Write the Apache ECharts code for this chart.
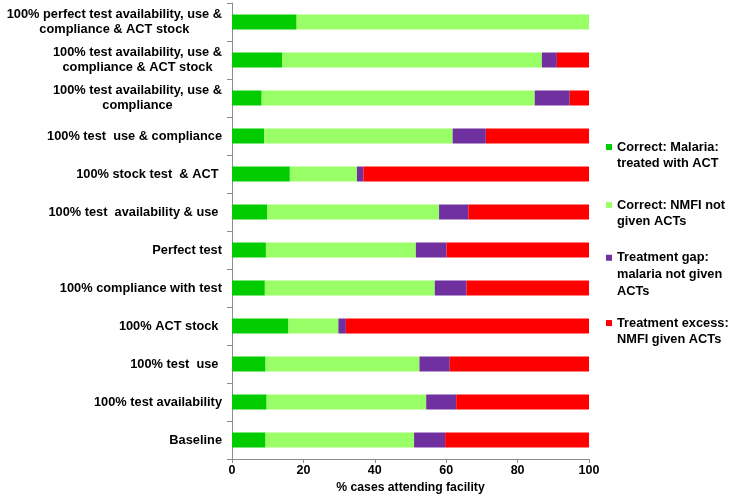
<!DOCTYPE html>
<html>
<head>
<meta charset="utf-8">
<script src="https://cdn.jsdelivr.net/npm/echarts@6/dist/echarts.min.js"></script>
<style>
html,body{margin:0;padding:0;background:#fff;}
#chart{width:731px;height:499px;}
</style>
</head>
<body>
<div id="chart"></div>
<script>
var categories = [
  "100% perfect test availability, use &\ncompliance & ACT stock",
  "100% test availability, use &\ncompliance & ACT stock",
  "100% test availability, use &\ncompliance",
  "100% test  use & compliance",
  "100% stock test  & ACT ",
  "100% test  availability & use ",
  "Perfect test",
  "100% compliance with test",
  "100% ACT stock ",
  "100% test  use ",
  "100% test availability",
  "Baseline"
];
var seriesNames = [
  "Correct: Malaria:\ntreated with ACT",
  "Correct: NMFI not\ngiven ACTs",
  "Treatment gap:\nmalaria not given\nACTs",
  "Treatment excess:\nNMFI given ACTs"
];
var correctMalaria = [18.1, 14.0, 8.3, 9.0, 16.2, 9.9, 9.5, 9.2, 15.8, 9.4, 9.7, 9.4];
var correctNMFI    = [81.9, 72.8, 76.5, 52.8, 18.8, 48.1, 42.0, 47.6, 14.0, 43.1, 44.7, 41.6];
var treatmentGap   = [0, 4.2, 9.8, 9.3, 1.8, 8.2, 8.6, 8.9, 2.1, 8.5, 8.4, 8.7];
var treatmentExcess= [0, 9.0, 5.4, 28.9, 63.2, 33.8, 39.9, 34.3, 68.1, 39.0, 37.2, 40.3];
var xTicks = [0, 20, 40, 60, 80, 100];

var colors = ['#00CC00', '#99FF66', '#7030A0', '#FF0000'];
var values = [correctMalaria, correctNMFI, treatmentGap, treatmentExcess];
var FONT = 'Liberation Sans, Arial, sans-serif';
var LL = 16.7;
var legendTops = [122, 180, 216, 298];

var chart = echarts.init(document.getElementById('chart'));
var legends = seriesNames.map(function (name, i) {
  var n = name.split('\n').length;
  var lead = new Array(n).join('\n'); // n-1 leading blank lines so the marker sits on line 1
  return {
    data: [name],
    left: 606,
    top: legendTops[i],
    orient: 'vertical',
    padding: 0,
    icon: 'rect',
    itemWidth: 6,
    itemHeight: 6,
    itemGap: 0,
    selectedMode: false,
    formatter: function (nm) { return lead + nm; },
    textStyle: {
      fontFamily: FONT,
      fontSize: 12.8,
      fontWeight: 'bold',
      color: '#000',
      lineHeight: LL
    }
  };
});

var option = {
  animation: false,
  backgroundColor: '#fff',
  grid: { left: 232, right: 142, top: 3, bottom: 40, containLabel: false },
  legend: legends,
  xAxis: {
    type: 'value',
    min: 0, max: 100, interval: 20,
    splitLine: { show: false },
    axisLine: { show: true, lineStyle: { color: '#8c8c8c', width: 1 } },
    axisTick: { show: true, length: 4, lineStyle: { color: '#8c8c8c' } },
    axisLabel: {
      margin: 5,
      fontFamily: FONT, fontSize: 12.5, fontWeight: 'bold', color: '#000',
      formatter: function (v) { return xTicks.indexOf(v) >= 0 ? String(v) : ''; }
    },
    name: '% cases attending facility',
    nameLocation: 'middle',
    nameGap: 20,
    nameTextStyle: { fontFamily: FONT, fontSize: 12.2, fontWeight: 'bold', color: '#000' }
  },
  yAxis: {
    type: 'category',
    inverse: true,
    data: categories,
    axisLine: { show: true, lineStyle: { color: '#8c8c8c', width: 1 } },
    axisTick: { show: true, length: 5, alignWithLabel: false, lineStyle: { color: '#8c8c8c' } },
    axisLabel: {
      margin: 10,
      fontFamily: FONT, fontSize: 12.8, fontWeight: 'bold', color: '#000',
      lineHeight: 14.5,
      formatter: function (v) {
        return v.split('\n').map(function (s) { return '{c|' + s + '}'; }).join('\n');
      },
      rich: {
        c: { align: 'center', fontFamily: FONT, fontSize: 12.8, fontWeight: 'bold', color: '#000', lineHeight: 14.5 }
      }
    }
  },
  series: seriesNames.map(function (name, i) {
    return {
      name: name,
      type: 'bar',
      stack: 'total',
      barWidth: 15,
      itemStyle: { color: colors[i] },
      data: values[i]
    };
  })
};
chart.setOption(option);
</script>
</body>
</html>
